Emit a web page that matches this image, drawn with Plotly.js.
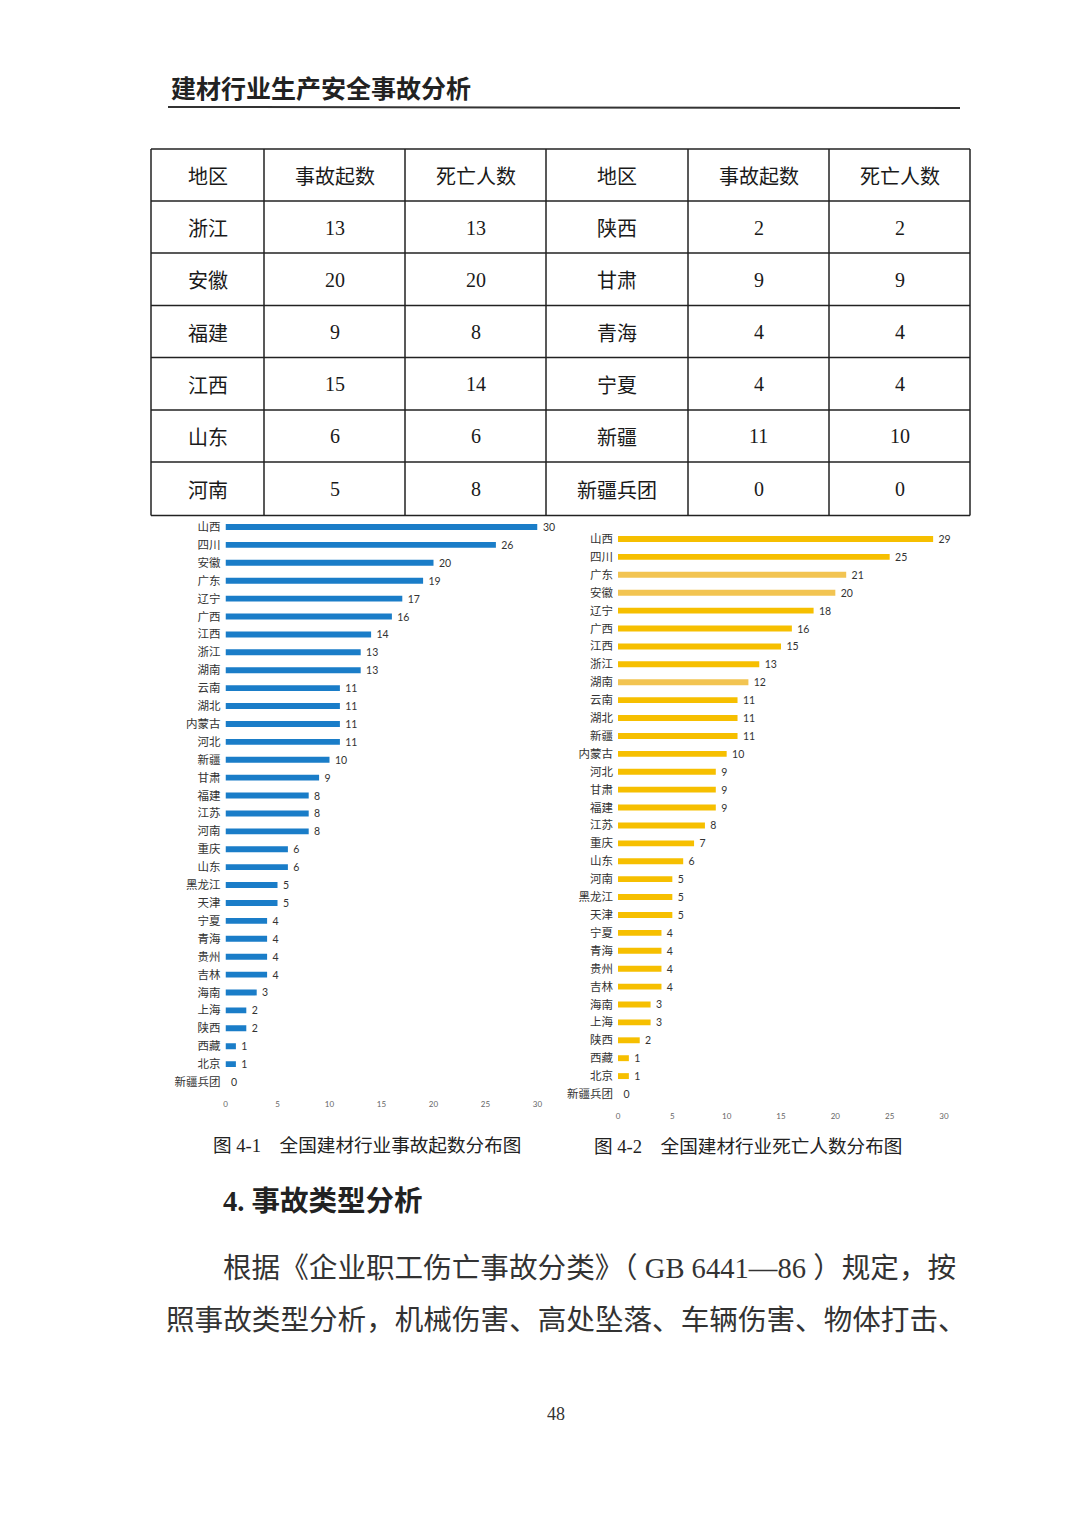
<!DOCTYPE html>
<html>
<head>
<meta charset="utf-8">
<script src="https://cdn.plot.ly/plotly-3.0.1.min.js"></script>
<style>
  html, body { margin: 0; padding: 0; background: #ffffff; }
  #page { width: 1080px; height: 1527px; }
</style>
</head>
<body>
<div id="page"></div>
<script>
// ---------------- data ----------------
const countRegions = ['山西','四川','安徽','广东','辽宁','广西','江西','浙江','湖南','云南','湖北','内蒙古','河北','新疆','甘肃','福建','江苏','河南','重庆','山东','黑龙江','天津','宁夏','青海','贵州','吉林','海南','上海','陕西','西藏','北京','新疆兵团'];
const countValues  = [30,26,20,19,17,16,14,13,13,11,11,11,11,10,9,8,8,8,6,6,5,5,4,4,4,4,3,2,2,1,1,0];

const deathRegions = ['山西','四川','广东','安徽','辽宁','广西','江西','浙江','湖南','云南','湖北','新疆','内蒙古','河北','甘肃','福建','江苏','重庆','山东','河南','黑龙江','天津','宁夏','青海','贵州','吉林','海南','上海','陕西','西藏','北京','新疆兵团'];
const deathValues  = [29,25,21,20,18,16,15,13,12,11,11,11,10,9,9,9,8,7,6,5,5,5,4,4,4,4,3,3,2,1,1,0];

const xTicks = [0,5,10,15,20,25,30];

const tableHeader   = ['地区','事故起数','死亡人数','地区','事故起数','死亡人数'];
const tableRegionA  = ['浙江','安徽','福建','江西','山东','河南'];
const tableCountA   = [13,20,9,15,6,5];
const tableDeathA   = [13,20,8,14,6,8];
const tableRegionB  = ['陕西','甘肃','青海','宁夏','新疆','新疆兵团'];
const tableCountB   = [2,9,4,4,11,0];
const tableDeathB   = [2,9,4,4,10,0];

const pageHeader = '建材行业生产安全事故分析';
const caption1 = '图 4-1　全国建材行业事故起数分布图';
const caption2 = '图 4-2　全国建材行业死亡人数分布图';
const sectionHeading = '4. 事故类型分析';
const paraLine1 = '根据《企业职工伤亡事故分类》（ GB 6441—86 ）规定，按';
const paraLine2 = '照事故类型分析，机械伤害、高处坠落、车辆伤害、物体打击、';
const pageNumber = '48';

// ---------------- styles ----------------
const W = 1080, H = 1527;
const px = x => x / W;
const py = y => 1 - y / H;
const CJK = '"Noto Sans CJK SC", "Noto Sans", sans-serif';
const SERIF_CJK = '"Liberation Serif", "Noto Sans CJK SC", serif';
const NUM = 'Lato, "Liberation Sans", sans-serif';
const blue = '#1A7DC8';
const yellow = '#F6BF00';
const yellowLight = '#F2C452';
const lightDeathBars = ['广东','安徽','湖南'];
const deathColors = deathRegions.map(r => lightDeathBars.includes(r) ? yellowLight : yellow);
const labelPad = '\u00a0\u00a0';

// ---------------- traces ----------------
const traces = [
  {
    type: 'bar', orientation: 'h',
    x: countValues, y: countRegions,
    xaxis: 'x', yaxis: 'y',
    marker: { color: blue },
    texttemplate: labelPad + '%{x}',
    textposition: 'outside', cliponaxis: false, constraintext: 'none',
    outsidetextfont: { family: NUM, size: 10.5, color: '#333' },
    hoverinfo: 'x+y'
  },
  {
    type: 'bar', orientation: 'h',
    x: deathValues, y: deathRegions,
    xaxis: 'x2', yaxis: 'y2',
    marker: { color: deathColors },
    texttemplate: labelPad + '%{x}',
    textposition: 'outside', cliponaxis: false, constraintext: 'none',
    outsidetextfont: { family: NUM, size: 10.5, color: '#333' },
    hoverinfo: 'x+y'
  }
];

// ---------------- shapes & annotations ----------------
const shapes = [];
const annotations = [];

function hline(x0, x1, y0, y1, w, c) {
  shapes.push({ type: 'line', xref: 'paper', yref: 'paper',
    x0: px(x0), x1: px(x1), y0: py(y0), y1: py(y1),
    line: { color: c || '#222', width: w || 1.5 } });
}
function label(text, x, y, size, family, opts) {
  opts = opts || {};
  annotations.push(Object.assign({
    text: text, xref: 'paper', yref: 'paper', x: px(x), y: py(y),
    showarrow: false, xanchor: 'center', yanchor: 'middle',
    font: { family: family, size: size, color: opts.color || '#222', weight: opts.weight || 'normal' }
  }, opts.extra || {}));
}

// page header + rule
label(pageHeader, 169, 87, 25, CJK, { weight: 'bold', color: '#222', extra: { xanchor: 'left' } });
hline(168, 960, 107, 108, 2, '#333');

// table grid
const colX = [151, 264, 405, 546, 688, 829, 970];
const rowY = [149, 201, 253, 305.5, 357.5, 410, 462, 515.5];
rowY.forEach(y => hline(colX[0], colX[6], y, y, 1.5));
colX.forEach(x => hline(x, x, rowY[0], rowY[7], 1.5));

const colCenter = i => (colX[i] + colX[i + 1]) / 2;
const rowCenter = j => (rowY[j] + rowY[j + 1]) / 2 + 0.5;

tableHeader.forEach((t, i) => label(t, colCenter(i), rowCenter(0), 20, CJK, { color: '#1a1a1a' }));
for (let j = 0; j < tableRegionA.length; j++) {
  const r = j + 1;
  label(tableRegionA[j], colCenter(0), rowCenter(r), 20, CJK, { color: '#1a1a1a' });
  label(String(tableCountA[j]), colCenter(1), rowCenter(r), 20, SERIF_CJK, { color: '#1a1a1a' });
  label(String(tableDeathA[j]), colCenter(2), rowCenter(r), 20, SERIF_CJK, { color: '#1a1a1a' });
  label(tableRegionB[j], colCenter(3), rowCenter(r), 20, CJK, { color: '#1a1a1a' });
  label(String(tableCountB[j]), colCenter(4), rowCenter(r), 20, SERIF_CJK, { color: '#1a1a1a' });
  label(String(tableDeathB[j]), colCenter(5), rowCenter(r), 20, SERIF_CJK, { color: '#1a1a1a' });
}

// captions
label(caption1, 211, 1145, 18.6, SERIF_CJK, { color: '#222', extra: { xanchor: 'left' } });
label(caption2, 592, 1146, 18.6, SERIF_CJK, { color: '#222', extra: { xanchor: 'left' } });

// section heading
label(sectionHeading, 221, 1201, 28.5, SERIF_CJK, { weight: 'bold', color: '#222', extra: { xanchor: 'left' } });

// paragraph
label(paraLine1, 221, 1268, 28.6, SERIF_CJK, { color: '#333', extra: { xanchor: 'left' } });
label(paraLine2, 164, 1320, 28.6, SERIF_CJK, { color: '#333', extra: { xanchor: 'left' } });

// page number
label(pageNumber, 556, 1414, 18, SERIF_CJK, { color: '#333' });

// ---------------- layout ----------------
const n = countRegions.length;
const leftX0 = 225.5, leftX1 = 537.5, leftTop = 527, leftBot = 1082;
const rightX0 = 618, rightX1 = 944, rightTop = 539, rightBot = 1094;
const halfRowL = (leftBot - leftTop) / (n - 1) / 2;
const halfRowR = (rightBot - rightTop) / (n - 1) / 2;

const xCommon = {
  range: [0, 30], tickvals: xTicks, ticktext: xTicks.map(String),
  showgrid: false, zeroline: false, showline: false, ticks: '',
  ticklabelstandoff: 7,
  tickfont: { family: NUM, size: 8, color: '#666' }, automargin: false, fixedrange: true
};
const yCommon = {
  type: 'category', range: [n - 0.5, -0.5],
  showgrid: false, zeroline: false, showline: false, ticks: '',
  ticklabelstandoff: 4,
  tickfont: { family: CJK, size: 11.5, color: '#333' }, automargin: false, fixedrange: true
};

const layout = {
  width: W, height: H,
  margin: { l: 0, r: 0, t: 0, b: 0, pad: 0 },
  paper_bgcolor: '#ffffff', plot_bgcolor: 'rgba(0,0,0,0)',
  showlegend: false,
  bargap: 0.67,
  xaxis: Object.assign({}, xCommon, { domain: [px(leftX0), px(leftX1)], anchor: 'y' }),
  yaxis: Object.assign({}, yCommon, { domain: [py(leftBot + halfRowL), py(leftTop - halfRowL)], anchor: 'x' }),
  xaxis2: Object.assign({}, xCommon, { domain: [px(rightX0), px(rightX1)], anchor: 'y2' }),
  yaxis2: Object.assign({}, yCommon, { domain: [py(rightBot + halfRowR), py(rightTop - halfRowR)], anchor: 'x2' }),
  shapes: shapes,
  annotations: annotations
};

Plotly.newPlot('page', traces, layout, { displayModeBar: false, staticPlot: true });
</script>
</body>
</html>
